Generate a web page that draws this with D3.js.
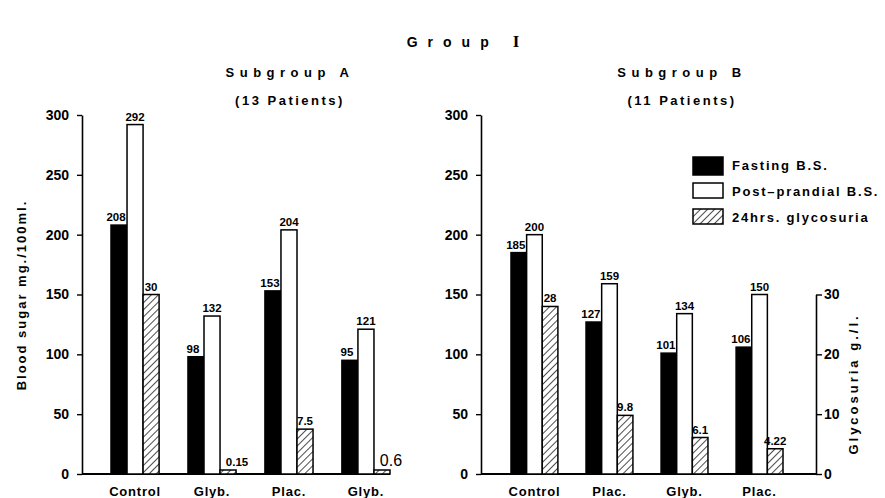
<!DOCTYPE html>
<html><head><meta charset="utf-8">
<script src="https://cdn.jsdelivr.net/npm/d3@7"></script>
<style>
html,body{margin:0;padding:0;background:#fff;}
svg{display:block;}
text{font-family:"Liberation Sans",Arial,sans-serif;fill:#000;}
</style></head>
<body>
<script>
// ---- data ----
const categoriesA = ["Control", "Glyb.", "Plac.", "Glyb."];
const fastingA = [208, 98, 153, 95];
const postprandialA = [292, 132, 204, 121];
const glycosuriaA = [30, 0.15, 7.5, 0.6];

const categoriesB = ["Control", "Plac.", "Glyb.", "Plac."];
const fastingB = [185, 127, 101, 106];
const postprandialB = [200, 159, 134, 150];
const glycosuriaB = [28, 9.8, 6.1, 4.22];

const bloodSugarTicks = [0, 50, 100, 150, 200, 250, 300];
const glycosuriaTicks = [0, 10, 20, 30];
const seriesNames = ["Fasting B.S.", "Post\u2013prandial B.S.", "24hrs. glycosuria"];

// ---- layout ----
const W = 885, H = 498;
const NUMFONT = "\"DejaVu Sans\",Verdana,sans-serif";
const svg = d3.select("body").append("svg").attr("width", W).attr("height", H);

const defs = svg.append("defs");
const pat = defs.append("pattern").attr("id", "hatch")
  .attr("patternUnits", "userSpaceOnUse").attr("width", 5).attr("height", 5)
  .attr("patternTransform", "rotate(45)");
pat.append("rect").attr("width", 5).attr("height", 5).attr("fill", "#fff");
pat.append("line").attr("x1", 0).attr("y1", 0).attr("x2", 0).attr("y2", 5)
  .attr("stroke", "#000").attr("stroke-width", 1.4);

const y = d3.scaleLinear().domain([0, 300]).range([474, 115]);
const g = d3.scaleLinear().domain([0, 30]).range([474, y(150)]);

const fills = ["#000", "#fff", "url(#hatch)"];

// titles
const t = svg.append("text").attr("x", 468).attr("y", 47).attr("text-anchor", "middle")
  .attr("font-size", 14).attr("font-weight", "bold").attr("letter-spacing", 10);
t.append("tspan").text("Group ");
t.append("tspan").attr("font-family", "\"Liberation Serif\",serif").attr("font-size", 17).text("I");

function panel(cfg) {
  const { categories, fasting, post, glyco, range, axisX, axisEnd, title, sub } = cfg;
  const x = d3.scaleBand().domain(d3.range(categories.length)).range(range)
    .paddingInner(0.375).paddingOuter(0);
  const xi = d3.scaleBand().domain([0, 1, 2]).range([0, x.bandwidth()]);

  svg.append("text").attr("x", cfg.titleX).attr("y", 77).attr("text-anchor", "middle")
    .attr("font-size", 13).attr("font-weight", "bold").attr("letter-spacing", 5.5).text(title);
  svg.append("text").attr("x", cfg.titleX).attr("y", 105).attr("text-anchor", "middle")
    .attr("font-size", 13).attr("font-weight", "bold").attr("letter-spacing", 2.5).text(sub);

  // left axis
  const ax = svg.append("g").attr("transform", `translate(${axisX},0)`)
    .call(d3.axisLeft(y).tickValues(bloodSugarTicks).tickSize(5).tickSizeOuter(0).tickPadding(8));
  ax.select(".domain").attr("stroke-width", 1.6);
  ax.selectAll(".tick line").attr("stroke-width", 1.4);
  ax.selectAll(".tick text").attr("font-size", 14).attr("font-weight", "bold")
    .attr("font-family", NUMFONT);

  // baseline
  svg.append("line").attr("x1", axisX).attr("x2", axisEnd).attr("y1", y(0)).attr("y2", y(0))
    .attr("stroke", "#000").attr("stroke-width", 1.8);

  categories.forEach((c, i) => {
    const vals = [fasting[i], post[i], glyco[i]];
    vals.forEach((v, k) => {
      const sc = k === 2 ? g : y;
      let top = sc(v);
      if (y(0) - top < 4) top = y(0) - 4;
      const bx = x(i) + xi(k);
      svg.append("rect").attr("x", bx).attr("y", top)
        .attr("width", xi.bandwidth()).attr("height", y(0) - top)
        .attr("fill", fills[k]).attr("stroke", "#000").attr("stroke-width", 1.5);
      const small = k === 2 && v < 1;
      const plain = small && v === 0.6;
      svg.append("text").attr("x", bx + xi.bandwidth() / 2 + (small ? 9 : (k === 0 ? -3 : 0)))
        .attr("y", top - 4).attr("text-anchor", "middle")
        .attr("font-family", plain ? "\"Liberation Sans\",Arial,sans-serif" : NUMFONT)
        .attr("font-size", plain ? 16 : 11.5)
        .attr("font-weight", plain ? "normal" : "bold")
        .text(v);
    });
    svg.append("text").attr("x", x(i) + x.bandwidth() / 2).attr("y", 496)
      .attr("text-anchor", "middle").attr("font-size", 13).attr("font-weight", "bold")
      .attr("letter-spacing", 0.8).text(c);
  });
}

panel({ categories: categoriesA, fasting: fastingA, post: postprandialA, glyco: glycosuriaA,
  range: [111, 390], axisX: 82, axisEnd: 390, titleX: 290,
  title: "Subgroup A", sub: "(13 Patients)" });
panel({ categories: categoriesB, fasting: fastingB, post: postprandialB, glyco: glycosuriaB,
  range: [511, 783], axisX: 481, axisEnd: 816, titleX: 682,
  title: "Subgroup B", sub: "(11 Patients)" });

// right glycosuria axis
const ra = svg.append("g").attr("transform", "translate(816,0)")
  .call(d3.axisRight(g).tickValues(glycosuriaTicks).tickSize(6).tickSizeOuter(0).tickPadding(2));
ra.select(".domain").attr("stroke-width", 1.6);
ra.selectAll(".tick line").attr("stroke-width", 1.4);
ra.selectAll(".tick text").attr("font-size", 14).attr("font-weight", "bold")
  .attr("font-family", NUMFONT);

// axis titles
svg.append("text").attr("transform", "translate(26,295) rotate(-90)").attr("text-anchor", "middle")
  .attr("font-size", 13).attr("font-weight", "bold").attr("letter-spacing", 2)
  .text("Blood sugar mg./100ml.");
svg.append("text").attr("transform", "translate(858,384) rotate(-90)").attr("text-anchor", "middle")
  .attr("font-size", 13).attr("font-weight", "bold").attr("letter-spacing", 3)
  .text("Glycosuria g./l.");

// legend
const lg = svg.append("g").attr("transform", "translate(693,157)");
seriesNames.forEach((n, k) => {
  const row = lg.append("g").attr("transform", `translate(0,${k * 26})`);
  row.append("rect").attr("width", 30).attr("height", k === 0 ? 18 : 15)
    .attr("fill", fills[k]).attr("stroke", "#000").attr("stroke-width", 1.5);
  row.append("text").attr("x", 39).attr("y", 13).attr("font-size", 13)
    .attr("font-weight", "bold").attr("letter-spacing", 1.8).text(n);
});
</script>
</body></html>
